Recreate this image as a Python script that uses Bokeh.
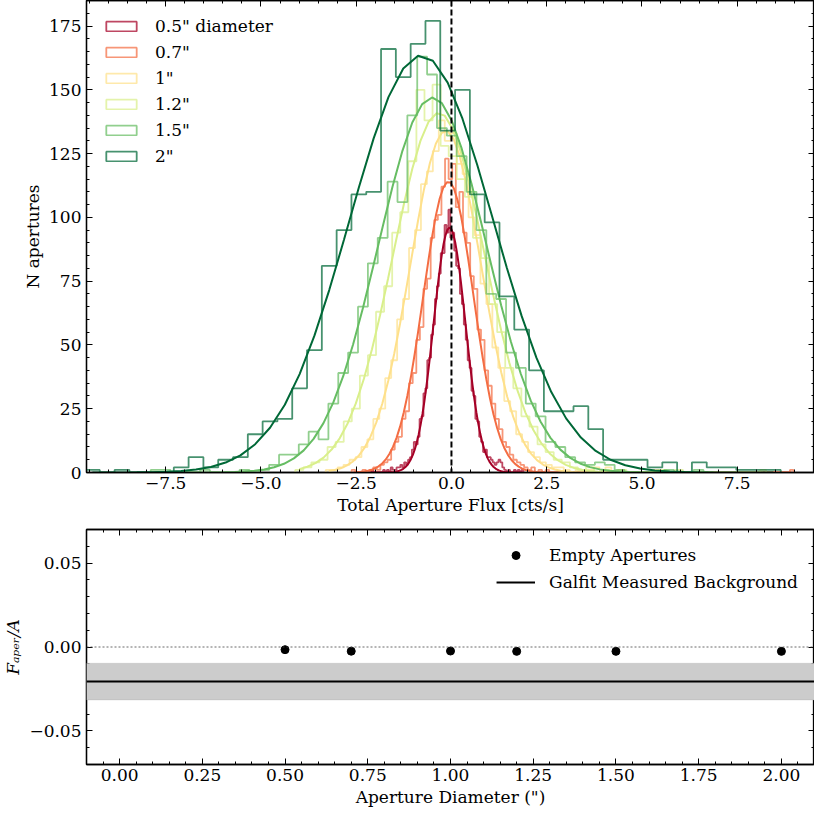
import numpy as np
from bokeh.plotting import figure
from bokeh.models import (Range1d, LinearAxis, SingleIntervalTicker, CustomJSTickFormatter,
                          Span, BoxAnnotation, Legend, LegendItem)
from bokeh.layouts import column
from bokeh.embed import file_html
from bokeh.resources import INLINE

FONT = "DejaVu Serif"
FS = "17px"

# ---------------- data ----------------
hist_labels = ['0.5" diameter', '0.7"', '1"', '1.2"', '1.5"', '2"']
hist_colors = ["#a50026", "#f46d43", "#fee08b", "#d9ef8b", "#66bd63", "#006837"]

# first bin left edge and bin width of each histogram
hist_left = [-2.20, -2.62, -3.30, -4.10, -7.894, -9.62]
hist_width = [0.0505, 0.0943, 0.1562, 0.212, 0.2591, 0.3886]

counts_05 = [0, 0, 1, 0, 0, 0, 0, 0, 1, 0, 1, 0, 2, 1, 1,
             2, 2, 3, 2, 4, 3, 5, 6, 9, 12, 11,
             14, 21, 22, 31, 33, 44, 45, 54, 58, 68, 73, 78, 86, 86, 97, 94, 103, 92, 94,
             87, 81, 80, 70, 66, 58, 52, 44, 41, 32, 30, 21, 20, 14, 12, 8,
             9, 6, 6, 5, 4, 3, 4, 5, 4, 2, 1,
             0, 1, 0, 0, 1, 0, 1, 0, 1]
counts_07 = [1, 0, 0, 1, 0, 1, 2, 1, 3, 4, 5, 9, 12, 14, 21, 24, 35, 39, 52, 57,
             72, 76, 92, 99, 101, 112, 123, 115, 121, 104, 110, 94, 90, 77, 72, 56, 52, 40, 34, 27,
             21, 17, 12, 10, 7, 5, 4, 3, 2, 1, 2, 0, 1, 0, 1,
             0, 0, 0, 0, 0, 0, 0, 0, 0, 0, 0, 0, 0, 0, 0, 0, 0, 0, 0, 0,
             0, 0, 0, 0, 0, 0, 0, 0, 0, 0, 0, 0, 0, 0, 0, 0, 0, 0, 0, 0,
             0, 0, 0, 0, 0, 0, 0, 0, 0, 0, 0, 0, 0, 0, 0, 0, 0, 0, 0, 0,
             0, 0, 0, 0, 0, 0, 0, 1]
counts_10 = [1, 1, 2, 3, 5, 6, 10, 13, 21, 25, 37, 44, 60, 68, 88, 95, 113, 118, 126, 138,
             130, 133, 121, 117, 100, 93, 74, 66, 49, 41, 28, 24, 15, 12, 8, 6, 4, 3, 2, 2,
             1, 0, 1, 0, 1, 2, 1, 2, 0, 1, 0, 0, 0, 0, 0, 1, 0, 0, 0, 0,
             0, 0, 0, 0, 0, 0, 0, 0, 0, 0, 0, 0, 0, 1]
counts_12 = [1, 2, 4, 5, 10, 12, 20, 25, 38, 46, 63, 73, 94, 102, 122, 150, 138, 152, 128, 124,
             115, 108, 92, 84, 66, 55, 41, 33, 22, 18, 11, 8, 5, 4, 2, 1, 2, 0, 1, 0,
             1, 0, 0, 0, 0, 1, 0, 1]
counts_15 = [1, 1, 0, 0, 0, 1, 0, 0, 0, 1, 0, 1, 3, 7, 7, 11, 16, 13, 27, 39,
             47, 65, 82, 92, 114, 106, 140, 163, 156, 135, 132, 124, 110, 95, 70, 68, 47, 41, 27, 22,
             12, 10, 6, 4, 3, 4, 3, 1, 0, 0, 0, 0, 1, 0, 0, 1, 0]
counts_20 = [1, 0, 1, 0, 0, 0, 2, 6, 2, 5, 6, 15, 20, 21, 33, 48, 81, 95, 109, 110,
             166, 155, 168, 177, 134, 150, 109, 98, 69, 56, 40, 24, 24, 26, 17, 5, 5, 5, 2, 4,
             0, 4, 2, 2, 1, 1, 1]
hist_counts = [counts_05, counts_07, counts_10, counts_12, counts_15, counts_20]

# Gaussian fit parameters of each histogram
fit_amp = [96.0, 114.0, 134.0, 141.0, 147.0, 163.5]
fit_mu = [-0.05, -0.08, -0.15, -0.33, -0.50, -0.79]
fit_sigma = [0.42, 0.66, 0.93, 1.20, 1.42, 1.88]

# lower panel
aper_diam = [0.5, 0.7, 1.0, 1.2, 1.5, 2.0]
aper_frac = [-0.0016, -0.0025, -0.0024, -0.0026, -0.0026, -0.0026]
galfit_bkg = -0.0206
galfit_lo = -0.0315
galfit_hi = -0.0097

NAN = [float("nan")]


# ---------------- helpers ----------------
def num_fmt(dec):
    return CustomJSTickFormatter(code="""
        if (Math.abs(tick) < 1e-9) { return (0).toFixed(%d); }
        var s = Math.abs(tick).toFixed(%d);
        return tick < 0 ? '\\u2212' + s : s;
    """ % (dec, dec))


def empty_fmt():
    return CustomJSTickFormatter(code="return '';")


def base_axis(ax):
    ax.major_tick_in = 6
    ax.major_tick_out = 0
    ax.minor_tick_in = 3
    ax.minor_tick_out = 0
    ax.axis_line_color = "black"
    ax.axis_line_width = 1.3
    ax.major_tick_line_color = "black"
    ax.minor_tick_line_color = "black"
    ax.major_tick_line_width = 1
    ax.minor_tick_line_width = 1
    ax.major_label_text_font = FONT
    ax.major_label_text_color = "black"


def style(p, xint, yint, xdec, ydec, xlabel, ylabel, ylab_standoff):
    p.grid.visible = False
    p.outline_line_color = "black"
    p.outline_line_width = 1.3
    bx = p.below[0]
    ly = p.left[0]
    bx.ticker = SingleIntervalTicker(interval=xint, num_minor_ticks=5)
    ly.ticker = SingleIntervalTicker(interval=yint, num_minor_ticks=5)
    bx.formatter = num_fmt(xdec)
    ly.formatter = num_fmt(ydec)
    for ax, lab, so, lso in ((bx, xlabel, 3, 4), (ly, ylabel, ylab_standoff, 5)):
        base_axis(ax)
        ax.major_label_text_font_size = FS
        ax.major_label_standoff = lso
        ax.axis_label = lab
        ax.axis_label_text_font = FONT
        ax.axis_label_text_font_size = FS
        ax.axis_label_text_font_style = "normal"
        ax.axis_label_text_color = "black"
        ax.axis_label_standoff = so
    top = LinearAxis(ticker=SingleIntervalTicker(interval=xint, num_minor_ticks=5), formatter=empty_fmt())
    right = LinearAxis(ticker=SingleIntervalTicker(interval=yint, num_minor_ticks=5), formatter=empty_fmt())
    for ax in (top, right):
        base_axis(ax)
        ax.major_label_text_font_size = "0px"
        ax.major_label_standoff = 0
        ax.axis_label_standoff = 0
    p.add_layout(top, "above")
    p.add_layout(right, "right")
    return ly


# ---------------- top panel ----------------
p1 = figure(width=814, height=525, output_backend="svg", toolbar_location=None,
            x_range=Range1d(-9.58, 9.53), y_range=Range1d(0, 185),
            min_border_left=81, min_border_right=0, min_border_top=0, min_border_bottom=53)

legend_items = []
for lab, col, left, w, cnt, A, mu, sg in zip(hist_labels, hist_colors, hist_left, hist_width,
                                             hist_counts, fit_amp, fit_mu, fit_sigma):
    cnt = np.asarray(cnt, dtype=float)
    edges = left + w * np.arange(len(cnt) + 1)
    xs = np.repeat(edges, 2)
    ys = np.concatenate([[0.0], np.repeat(cnt, 2), [0.0]])
    p1.line(xs, ys, line_color=col, line_alpha=0.72, line_width=1.8)
    centers = left + w * (np.arange(len(cnt)) + 0.5)
    model = A * np.exp(-(centers - mu) ** 2 / (2 * sg ** 2))
    p1.line(centers, model, line_color=col, line_width=2.0)
    proxy = p1.quad(left=NAN, right=NAN, top=NAN, bottom=NAN, fill_alpha=0,
                    line_color=col, line_alpha=0.72, line_width=1.8)
    legend_items.append(LegendItem(label=lab, renderers=[proxy], index=0))

p1.add_layout(Span(location=0, dimension="height", line_color="black",
                   line_dash="6 3", line_width=2))

leg1 = Legend(items=legend_items, location="top_left",
              label_text_font=FONT, label_text_font_size=FS, label_text_color="black",
              glyph_width=38, glyph_height=12, label_standoff=15, label_height=20,
              spacing=6, padding=10, margin=6,
              border_line_alpha=0, background_fill_alpha=0)
p1.add_layout(leg1)
style(p1, 2.5, 25, 1, 0, "Total Aperture Flux [cts/s]", "N apertures", 3)

# ---------------- bottom panel ----------------
p2 = figure(width=814, height=289, output_backend="svg", toolbar_location=None,
            x_range=Range1d(-0.10, 2.10), y_range=Range1d(-0.070, 0.070),
            min_border_left=81, min_border_right=0, min_border_top=4, min_border_bottom=50)
p2.add_layout(BoxAnnotation(bottom=galfit_lo, top=galfit_hi, fill_color="#cccccc",
                            fill_alpha=1.0, line_color="#aaaaaa", line_width=1))
p2.add_layout(Span(location=galfit_bkg, dimension="width", line_color="black", line_width=2))
p2.add_layout(Span(location=0, dimension="width", line_color="#444444",
                   line_dash="2 2", line_width=0.8))
pts = p2.scatter(aper_diam, aper_frac, size=8, color="black")
bkg_proxy = p2.line(x=NAN, y=NAN, line_color="black", line_width=2)
leg2 = Legend(items=[LegendItem(label="Empty Apertures", renderers=[pts]),
                     LegendItem(label="Galfit Measured Background", renderers=[bkg_proxy], index=0)],
              location="top_right",
              label_text_font=FONT, label_text_font_size=FS, label_text_color="black",
              glyph_width=39, glyph_height=20, label_standoff=14, label_height=20,
              spacing=7, padding=10, margin=6,
              border_line_alpha=0, background_fill_alpha=0)
p2.add_layout(leg2)
ly2 = style(p2, 0.25, 0.05, 2, 2, 'Aperture Diameter (")', "F\u2090\u209a\u2091\u1d63/A", 3)
ly2.axis_label_text_font_style = "italic"

layout = column(p1, p2)
open("out.html", "w", encoding="utf-8").write(file_html(layout, INLINE))
